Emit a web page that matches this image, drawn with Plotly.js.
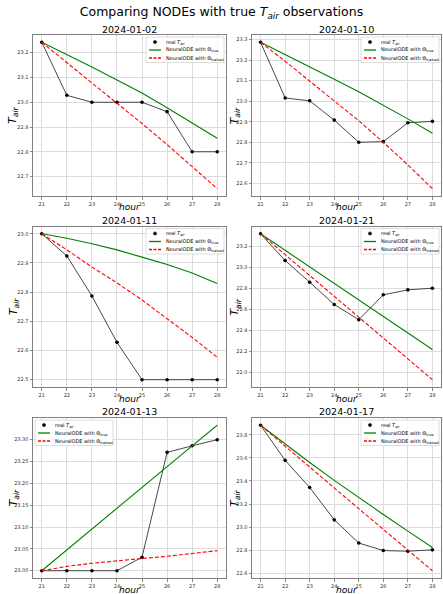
<!DOCTYPE html>
<html>
<head>
<meta charset="utf-8">
<script src="https://cdn.plot.ly/plotly-3.0.1.min.js"></script>
<style>html,body{margin:0;padding:0;background:#fff;}#chart{width:443px;height:594px;}</style>
</head>
<body>
<div id="chart"></div>
<script>
// ---------- data ----------
const hours = [21, 22, 23, 24, 25, 26, 27, 28];
const dates = ["2024-01-02", "2024-01-10", "2024-01-11", "2024-01-21", "2024-01-13", "2024-01-17"];

const real_0102 = [23.242, 23.028, 23.000, 23.000, 23.000, 22.962, 22.800, 22.800];
const true_0102 = [23.242, 23.193, 23.142, 23.090, 23.037, 22.978, 22.918, 22.855];
const trained_0102 = [23.242, 23.160, 23.079, 22.998, 22.914, 22.829, 22.741, 22.651];

const real_0110 = [23.287, 23.016, 23.002, 22.908, 22.800, 22.803, 22.895, 22.902];
const true_0110 = [23.287, 23.228, 23.167, 23.107, 23.046, 22.982, 22.914, 22.844];
const trained_0110 = [23.287, 23.195, 23.098, 23.003, 22.905, 22.800, 22.690, 22.574];

const real_0111 = [23.000, 22.924, 22.787, 22.628, 22.500, 22.500, 22.500, 22.500];
const true_0111 = [23.000, 22.985, 22.966, 22.945, 22.920, 22.895, 22.866, 22.830];
const trained_0111 = [23.000, 22.945, 22.886, 22.832, 22.773, 22.710, 22.645, 22.577];

const real_0121 = [23.317, 23.063, 22.857, 22.645, 22.500, 22.737, 22.784, 22.800];
const true_0121 = [23.317, 23.160, 23.003, 22.846, 22.689, 22.531, 22.374, 22.217];
const trained_0121 = [23.317, 23.119, 22.921, 22.723, 22.524, 22.326, 22.128, 21.930];

const real_0113 = [23.000, 23.000, 23.000, 23.000, 23.031, 23.271, 23.286, 23.300];
const true_0113 = [23.000, 23.048, 23.095, 23.143, 23.190, 23.238, 23.286, 23.333];
const trained_0113 = [23.000, 23.010, 23.017, 23.023, 23.028, 23.033, 23.039, 23.046];

const real_0117 = [23.883, 23.579, 23.344, 23.063, 22.862, 22.797, 22.791, 22.803];
const true_0117 = [23.883, 23.720, 23.560, 23.405, 23.255, 23.110, 22.965, 22.823];
const trained_0117 = [23.883, 23.700, 23.520, 23.340, 23.160, 22.980, 22.800, 22.622];

const yTickStep = [0.1, 0.1, 0.1, 0.2, 0.05, 0.2];
const yTickFormat = [".1f", ".1f", ".1f", ".1f", ".2f", ".1f"];
const legendSide = ["right", "right", "right", "right", "left", "right"];
const legendLabels = ["real <i>T<sub>air</sub></i>", "NeuralODE with Θ<sub>true</sub>", "NeuralODE with Θ<sub>trained</sub>"];

const panels = [
  [real_0102, true_0102, trained_0102],
  [real_0110, true_0110, trained_0110],
  [real_0111, true_0111, trained_0111],
  [real_0121, true_0121, trained_0121],
  [real_0113, true_0113, trained_0113],
  [real_0117, true_0117, trained_0117]
];

// ---------- layout geometry (pixels) ----------
const W = 443, H = 594;
const colPx = [[33, 226], [252, 441]];
const rowPx = [[35, 196], [226.5, 387], [418, 578]];
const yTitleOffset = [19.5, 17];
const px = v => v / W;
const py = v => 1 - v / H;

const traces = [];
const shapes = [];
const annotations = [];
const layout = {
  width: W, height: H,
  margin: {l: 0, r: 0, t: 0, b: 0},
  paper_bgcolor: "#ffffff",
  plot_bgcolor: "#ffffff",
  font: {family: "DejaVu Sans, sans-serif", color: "#000"},
  showlegend: false,
  title: {
    text: "Comparing NODEs with true <i>T<sub>air</sub></i> observations",
    font: {size: 12.5, color: "#000"},
    x: 0.5, xanchor: "center", y: py(11.5), yanchor: "middle"
  },
  shapes: shapes,
  annotations: annotations
};

function pad(lo, hi) { const d = (hi - lo) * 0.05; return [lo - d, hi + d]; }

function addText(text, x, y, opts) {
  annotations.push(Object.assign({
    text: text, xref: "paper", yref: "paper", x: px(x), y: py(y),
    showarrow: false, xanchor: "center", yanchor: "middle"
  }, opts));
}

panels.forEach((p, i) => {
  const n = i + 1;
  const col = i % 2, row = Math.floor(i / 2);
  const [L, R] = colPx[col];
  const [T, B] = rowPx[row];
  const xa = "x" + (n === 1 ? "" : n), ya = "y" + (n === 1 ? "" : n);
  const all = p[0].concat(p[1], p[2]);
  const yr = pad(Math.min(...all), Math.max(...all));
  const xr = pad(Math.min(...hours), Math.max(...hours));

  traces.push({
    x: hours, y: p[0], xaxis: xa, yaxis: ya,
    name: legendLabels[0], mode: "lines+markers",
    line: {color: "#333333", width: 0.9},
    marker: {color: "#000", size: 3.6}
  });
  traces.push({
    x: hours, y: p[1], xaxis: xa, yaxis: ya,
    name: legendLabels[1], mode: "lines",
    line: {color: "#008000", width: 1.1}
  });
  traces.push({
    x: hours, y: p[2], xaxis: xa, yaxis: ya,
    name: legendLabels[2], mode: "lines",
    line: {color: "#ff0000", width: 1.1, dash: "4px,2px"}
  });

  const axCommon = {
    showline: true, mirror: true, linecolor: "#808080", linewidth: 1,
    showgrid: true, gridcolor: "#dcdcdc", gridwidth: 1,
    zeroline: false, ticks: "outside", ticklen: 2.5, tickwidth: 0.7, tickcolor: "#555",
    tickfont: {size: 5, color: "#333"}
  };
  layout["xaxis" + (n === 1 ? "" : n)] = Object.assign({}, axCommon, {
    domain: [px(L), px(R)], anchor: ya, range: xr,
    tickmode: "array", tickvals: hours, ticktext: hours.map(String)
  });
  layout["yaxis" + (n === 1 ? "" : n)] = Object.assign({}, axCommon, {
    domain: [py(B), py(T)], anchor: xa, range: yr,
    dtick: yTickStep[i], tick0: 0, tickformat: yTickFormat[i]
  });

  // subplot title and axis titles
  addText(dates[i], (L + R) / 2, T - 6, {font: {size: 9.5, color: "#000"}});
  addText("<i>hour</i>", (L + R) / 2, B + 11.5, {font: {size: 9, color: "#000"}});
  addText("<i>T<sub>air</sub></i>", L - yTitleOffset[col], (T + B) / 2, {textangle: -90, font: {size: 11, color: "#000"}});

  // legend box
  const lw = 78, lh = 25.5;
  let x0, x1;
  if (legendSide[i] === "right") { x1 = R - 2; x0 = x1 - lw; } else { x0 = L + 2; x1 = x0 + lw; }
  const y0 = T + 2, y1 = y0 + lh;
  shapes.push({
    type: "rect", xref: "paper", yref: "paper",
    x0: px(x0), x1: px(x1), y0: py(y0), y1: py(y1),
    line: {color: "#d4d4d4", width: 0.8}, fillcolor: "rgba(255,255,255,0.85)", layer: "above"
  });
  const rows = [y0 + 5, y0 + 13, y0 + 21];
  shapes.push({
    type: "circle", xref: "paper", yref: "paper",
    x0: px(x0 + 9 - 1.6), x1: px(x0 + 9 + 1.6), y0: py(rows[0] - 1.6), y1: py(rows[0] + 1.6),
    line: {color: "#000000", width: 0.5}, fillcolor: "#000000", layer: "above"
  });
  shapes.push({
    type: "line", xref: "paper", yref: "paper",
    x0: px(x0 + 3), x1: px(x0 + 15), y0: py(rows[1]), y1: py(rows[1]),
    line: {color: "rgb(0,128,0)", width: 1.3}, layer: "above"
  });
  shapes.push({
    type: "line", xref: "paper", yref: "paper",
    x0: px(x0 + 3), x1: px(x0 + 15), y0: py(rows[2]), y1: py(rows[2]),
    line: {color: "rgb(255,0,0)", width: 1.3, dash: "3px,1.5px"}, layer: "above"
  });
  legendLabels.forEach((lab, k) => {
    addText(lab, x0 + 17.5, rows[k], {xanchor: "left", font: {size: 5, color: "#000"}});
  });
});

Plotly.newPlot("chart", traces, layout, {displayModeBar: false, staticPlot: true});
</script>
</body>
</html>
